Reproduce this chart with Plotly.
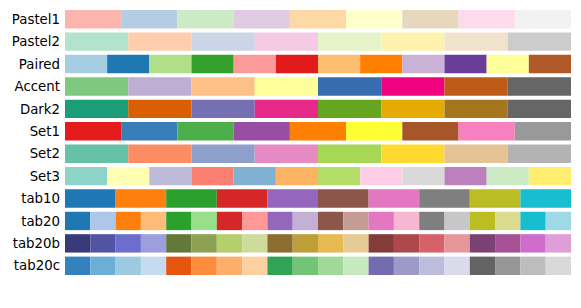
import plotly.graph_objects as go

names = ["Pastel1", "Pastel2", "Paired", "Accent", "Dark2", "Set1", "Set2", "Set3",
         "tab10", "tab20", "tab20b", "tab20c"]

pastel1 = ["#fbb4ae", "#b3cde3", "#ccebc5", "#decbe4", "#fed9a6", "#ffffcc", "#e5d8bd", "#fddaec", "#f2f2f2"]
pastel2 = ["#b3e2cd", "#fdcdac", "#cbd5e8", "#f4cae4", "#e6f5c9", "#fff2ae", "#f1e2cc", "#cccccc"]
paired = ["#a6cee3", "#1f78b4", "#b2df8a", "#33a02c", "#fb9a99", "#e31a1c", "#fdbf6f", "#ff7f00",
          "#cab2d6", "#6a3d9a", "#ffff99", "#b15928"]
accent = ["#7fc97f", "#beaed4", "#fdc086", "#ffff99", "#386cb0", "#f0027f", "#bf5b17", "#666666"]
dark2 = ["#1b9e77", "#d95f02", "#7570b3", "#e7298a", "#66a61e", "#e6ab02", "#a6761d", "#666666"]
set1 = ["#e41a1c", "#377eb8", "#4daf4a", "#984ea3", "#ff7f00", "#ffff33", "#a65628", "#f781bf", "#999999"]
set2 = ["#66c2a5", "#fc8d62", "#8da0cb", "#e78ac3", "#a6d854", "#ffd92f", "#e5c494", "#b3b3b3"]
set3 = ["#8dd3c7", "#ffffb3", "#bebada", "#fb8072", "#80b1d3", "#fdb462", "#b3de69", "#fccde5",
        "#d9d9d9", "#bc80bd", "#ccebc5", "#ffed6f"]
tab10 = ["#1f77b4", "#ff7f0e", "#2ca02c", "#d62728", "#9467bd", "#8c564b", "#e377c2", "#7f7f7f",
         "#bcbd22", "#17becf"]
tab20 = ["#1f77b4", "#aec7e8", "#ff7f0e", "#ffbb78", "#2ca02c", "#98df8a", "#d62728", "#ff9896",
         "#9467bd", "#c5b0d5", "#8c564b", "#c49c94", "#e377c2", "#f7b6d2", "#7f7f7f", "#c7c7c7",
         "#bcbd22", "#dbdb8d", "#17becf", "#9edae5"]
tab20b = ["#393b79", "#5254a3", "#6b6ecf", "#9c9ede", "#637939", "#8ca252", "#b5cf6b", "#cedb9c",
          "#8c6d31", "#bd9e39", "#e7ba52", "#e7cb94", "#843c39", "#ad494a", "#d6616b", "#e7969c",
          "#7b4173", "#a55194", "#ce6dce", "#de9ed6"]
tab20c = ["#3182bd", "#6baed6", "#9ecae1", "#c6dbef", "#e6550d", "#fd8d3c", "#fdae6b", "#fdd0a2",
          "#31a354", "#74c476", "#a1d99b", "#c7e9c0", "#756bb1", "#9e9ac8", "#bcbddc", "#dadaeb",
          "#636363", "#969696", "#bdbdbd", "#d9d9d9"]

palettes = [pastel1, pastel2, paired, accent, dark2, set1, set2, set3, tab10, tab20, tab20b, tab20c]

fig = go.Figure()
for name, cols in zip(names, palettes):
    n = len(cols)
    fig.add_trace(go.Bar(
        y=[name] * n,
        x=[1.0 / n] * n,
        base=[k / n for k in range(n)],
        orientation="h",
        marker=dict(color=cols, line=dict(width=0)),
        width=0.82,
        showlegend=False,
        hoverinfo="skip",
    ))

fig.update_layout(
    width=581, height=308,
    margin=dict(l=65, r=10, t=8, b=30.5),
    paper_bgcolor="white", plot_bgcolor="white",
    barmode="overlay",
    font=dict(family="DejaVu Sans", size=13.33, color="#000000"),
    xaxis=dict(range=[0, 1], visible=False, fixedrange=True),
    yaxis=dict(categoryorder="array", categoryarray=names, autorange="reversed",
               showgrid=False, zeroline=False, showline=False, ticks="",
               ticklabelstandoff=4, fixedrange=True),
)

fig.write_html("out.html")
